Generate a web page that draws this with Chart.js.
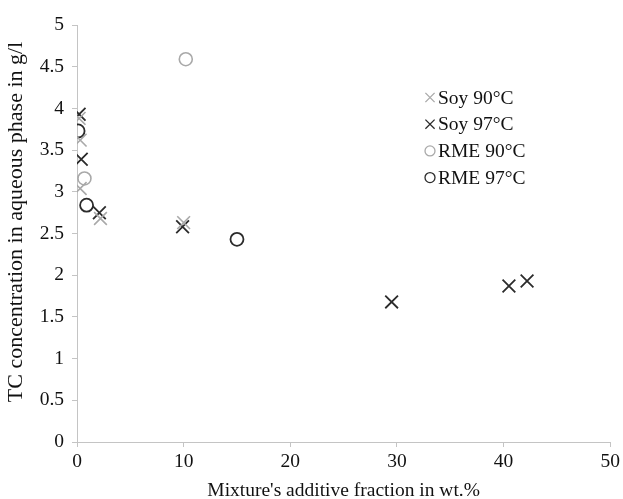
<!DOCTYPE html>
<html>
<head>
<meta charset="utf-8">
<script src="https://cdn.jsdelivr.net/npm/chart.js@4"></script>
<style>
  html, body { margin: 0; padding: 0; background: #fff; }
  #wrap { width: 623px; height: 499px; }
</style>
</head>
<body>
<div id="wrap"><canvas id="c" width="623" height="499"></canvas></div>
<script>
// additive fraction (wt.%) and TC concentration (g/l) per series
const soy90X = [0.2, 0.3, 0.3, 2.2, 10.0];
const soy90Y = [3.88, 3.62, 3.04, 2.68, 2.63];
const soy97X = [0.2, 0.4, 2.1, 9.9, 29.5, 40.5, 42.2];
const soy97Y = [3.93, 3.39, 2.75, 2.58, 1.68, 1.87, 1.93];
const rme90X = [0.7, 10.2];
const rme90Y = [3.16, 4.59];
const rme97X = [0.1, 0.9, 15.0];
const rme97Y = [3.73, 2.84, 2.43];

const seriesNames = ["Soy 90°C", "Soy 97°C", "RME 90°C", "RME 97°C"];
const xTitle = "Mixture's additive fraction in wt.%";
const yTitle = "TC concentration in aqueous phase in g/l";

const GREY = "#a9a9a9";
const DARK = "#2b2b2b";
const AXIS = "#c4c4c4";
const FONT = "'Liberation Serif', 'Times New Roman', serif";

function pts(xs, ys) {
  return xs.map((x, i) => ({ x: x, y: ys[i] }));
}

const datasets = [
  { label: seriesNames[0], data: pts(soy90X, soy90Y), pointStyle: "crossRot", radius: 9, borderColor: GREY, borderWidth: 1.6 },
  { label: seriesNames[1], data: pts(soy97X, soy97Y), pointStyle: "crossRot", radius: 9, borderColor: DARK, borderWidth: 1.8 },
  { label: seriesNames[2], data: pts(rme90X, rme90Y), pointStyle: "circle", radius: 6.5, borderColor: GREY, borderWidth: 1.6 },
  { label: seriesNames[3], data: pts(rme97X, rme97Y), pointStyle: "circle", radius: 6.5, borderColor: DARK, borderWidth: 1.8 }
].map(d => Object.assign(d, { backgroundColor: "rgba(0,0,0,0)", pointHoverRadius: d.radius }));

// legend inside the plot (upper right) and the rotated y title
const decorations = {
  id: "decorations",
  afterDraw(chart) {
    const ctx = chart.ctx;
    const x0 = 430, y0 = 97.5, step = 26.7;
    ctx.save();
    ctx.font = "19.5px " + FONT;
    ctx.textBaseline = "middle";
    chart.data.datasets.forEach((ds, i) => {
      const y = y0 + i * step;
      ctx.strokeStyle = ds.borderColor;
      ctx.lineWidth = 1.3;
      ctx.beginPath();
      if (ds.pointStyle === "circle") {
        ctx.arc(x0, y, 5, 0, Math.PI * 2);
      } else {
        ctx.moveTo(x0 - 4.6, y - 4.6); ctx.lineTo(x0 + 4.6, y + 4.6);
        ctx.moveTo(x0 + 4.6, y - 4.6); ctx.lineTo(x0 - 4.6, y + 4.6);
      }
      ctx.stroke();
      ctx.fillStyle = "#111";
      ctx.textAlign = "left";
      ctx.fillText(ds.label, x0 + 8, y + 1);
    });

    ctx.translate(16, 222);
    ctx.rotate(-Math.PI / 2);
    ctx.font = "22px " + FONT;
    ctx.textAlign = "center";
    ctx.fillStyle = "#111";
    ctx.fillText(yTitle, 0, 0);
    ctx.restore();
  }
};

new Chart(document.getElementById("c"), {
  type: "scatter",
  data: { datasets: datasets },
  options: {
    responsive: false,
    animation: false,
    layout: { padding: { top: 25, right: 12, left: 0, bottom: 0 } },
    plugins: {
      legend: { display: false },
      tooltip: { enabled: false }
    },
    scales: {
      x: {
        type: "linear",
        min: 0,
        max: 50,
        ticks: { stepSize: 10, color: "#111", font: { family: FONT, size: 19.5 }, padding: 3, maxRotation: 0 },
        grid: { drawOnChartArea: false, drawTicks: true, tickLength: 5, color: AXIS },
        border: { display: true, color: AXIS, width: 1 },
        title: { display: true, text: xTitle, color: "#111", font: { family: FONT, size: 19.5, lineHeight: 1 }, padding: { top: 0, bottom: -2 } },
        afterFit(scale) { scale.height = 57; }
      },
      y: {
        type: "linear",
        min: 0,
        max: 5,
        ticks: { stepSize: 0.5, color: "#111", font: { family: FONT, size: 19.5 }, padding: 8, callback: v => String(v) },
        grid: { drawOnChartArea: false, drawTicks: true, tickLength: 5, color: AXIS },
        border: { display: true, color: AXIS, width: 1 },
        afterFit(scale) { scale.width = 77; }
      }
    }
  },
  plugins: [decorations]
});
</script>
</body>
</html>
